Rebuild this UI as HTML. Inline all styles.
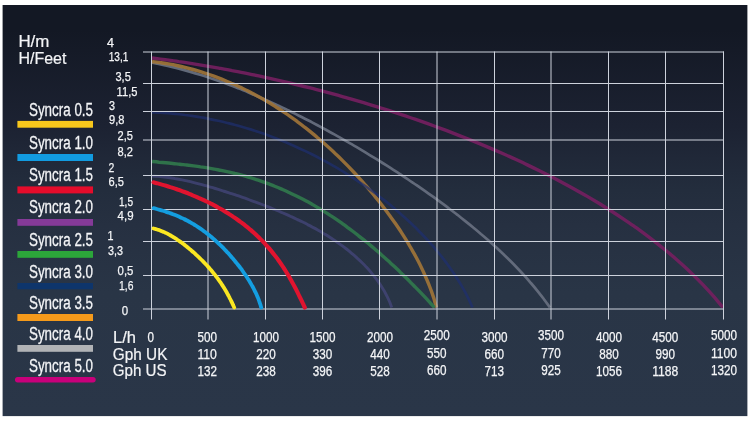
<!DOCTYPE html>
<html lang="en">
<head>
<meta charset="utf-8">
<title>Syncra pump performance curves</title>
<style>
html,body{margin:0;padding:0;background:#fff;}
body{width:750px;height:422px;overflow:hidden;}
svg{display:block;will-change:transform;}
text{font-family:"Liberation Sans",sans-serif;fill:#f4f5f7;}
.ax{font-size:13.8px;stroke:#f4f5f7;stroke-width:0.25px;}
.ay{font-size:13.2px;stroke:#f4f5f7;stroke-width:0.25px;}
.hd{font-size:16.2px;stroke:#f4f5f7;stroke-width:0.2px;}
.lg{font-size:18px;stroke:#f4f5f7;stroke-width:0.3px;}
.grid line{stroke:#cdd2dc;stroke-width:1;}
.curves path{fill:none;stroke-linecap:butt;stroke-linejoin:round;}
.curves.thick path{stroke-linecap:round;}
</style>
</head>
<body>
<svg width="750" height="422" viewBox="0 0 750 422">
<defs>
<linearGradient id="bg" x1="0" y1="0" x2="0" y2="1">
<stop offset="0" stop-color="#131824"/>
<stop offset="0.06" stop-color="#131824"/>
<stop offset="0.294" stop-color="#1c2232"/>
<stop offset="0.372" stop-color="#202838"/>
<stop offset="0.45" stop-color="#232d3d"/>
<stop offset="0.535" stop-color="#263041"/>
<stop offset="0.7" stop-color="#293546"/>
<stop offset="1" stop-color="#2a3648"/>
</linearGradient>
</defs>
<rect x="0" y="0" width="750" height="422" fill="#ffffff"/>
<rect x="2.6" y="5" width="744.8" height="411.1" fill="url(#bg)"/>

<g class="curves">
<path d="M152.0 58.0 C154.2 58.3 160.9 59.1 165.4 59.7 C169.8 60.3 174.3 60.9 178.7 61.6 C183.2 62.2 187.7 62.9 192.1 63.6 C196.6 64.3 201.0 65.0 205.5 65.8 C209.9 66.5 214.4 67.3 218.8 68.1 C223.2 68.9 227.7 69.7 232.1 70.6 C236.6 71.4 241.0 72.3 245.4 73.2 C249.8 74.1 254.3 75.0 258.7 75.9 C263.1 76.9 267.5 77.8 271.9 78.8 C276.3 79.8 280.7 80.8 285.1 81.8 C289.5 82.8 293.9 83.9 298.3 85.0 C302.7 86.0 307.1 87.1 311.4 88.2 C315.8 89.4 320.2 90.5 324.5 91.6 C328.9 92.8 333.2 94.0 337.6 95.2 C341.9 96.4 346.3 97.6 350.6 98.9 C354.9 100.1 359.3 101.4 363.6 102.7 C367.9 104.0 372.2 105.3 376.5 106.6 C380.8 107.9 385.1 109.3 389.4 110.7 C393.7 112.1 398.0 113.5 402.2 114.9 C406.5 116.3 410.8 117.8 415.0 119.2 C419.3 120.7 423.5 122.2 427.8 123.7 C432.0 125.2 436.3 126.8 440.5 128.3 C444.7 129.9 448.9 131.5 453.1 133.1 C457.3 134.7 461.5 136.4 465.7 138.0 C469.9 139.7 474.1 141.4 478.3 143.1 C482.4 144.8 486.6 146.6 490.7 148.4 C494.9 150.1 499.0 151.9 503.2 153.8 C507.3 155.6 511.4 157.4 515.5 159.3 C519.6 161.2 523.7 163.1 527.8 165.1 C531.8 167.0 535.9 169.0 539.9 171.0 C544.0 173.0 548.0 175.0 552.0 177.1 C556.0 179.2 560.0 181.3 564.0 183.4 C568.0 185.5 572.0 187.7 575.9 189.9 C579.8 192.1 583.8 194.3 587.7 196.6 C591.6 198.9 595.5 201.2 599.3 203.5 C603.2 205.9 607.0 208.3 610.8 210.7 C614.6 213.1 618.4 215.6 622.1 218.1 C625.9 220.6 629.6 223.2 633.3 225.7 C637.0 228.3 640.7 231.0 644.3 233.6 C647.9 236.3 651.5 239.0 655.1 241.8 C658.6 244.6 662.1 247.4 665.6 250.3 C669.1 253.1 672.5 256.0 675.9 259.0 C679.3 262.0 682.7 265.0 686.0 268.0 C689.3 271.1 692.5 274.2 695.7 277.4 C698.9 280.6 702.1 283.8 705.2 287.1 C708.3 290.4 711.3 293.7 714.3 297.1 C717.2 300.5 721.5 305.8 723.0 307.5" stroke="#74205f" stroke-width="3.4" opacity="0.92"/>
<path d="M152.0 62.7 C153.7 63.0 158.6 64.0 161.9 64.7 C165.2 65.4 168.5 66.1 171.8 66.9 C175.1 67.7 178.3 68.5 181.6 69.4 C184.9 70.3 188.1 71.2 191.3 72.1 C194.6 73.0 197.8 74.0 201.0 75.0 C204.3 76.0 207.5 77.1 210.7 78.2 C213.9 79.2 217.0 80.3 220.2 81.5 C223.4 82.6 226.6 83.8 229.7 85.0 C232.9 86.1 236.0 87.4 239.1 88.6 C242.3 89.9 245.4 91.1 248.5 92.4 C251.6 93.7 254.7 95.0 257.8 96.4 C260.9 97.7 264.0 99.1 267.1 100.5 C270.2 101.8 273.2 103.2 276.3 104.7 C279.3 106.1 282.4 107.5 285.4 109.0 C288.5 110.5 291.5 111.9 294.5 113.4 C297.5 114.9 300.5 116.5 303.5 118.0 C306.5 119.5 309.5 121.1 312.5 122.6 C315.5 124.2 318.5 125.8 321.5 127.4 C324.4 129.0 327.4 130.6 330.3 132.2 C333.3 133.8 336.2 135.5 339.2 137.1 C342.1 138.8 345.0 140.5 348.0 142.2 C350.9 143.8 353.8 145.5 356.7 147.2 C359.6 149.0 362.5 150.7 365.4 152.4 C368.3 154.2 371.1 155.9 374.0 157.7 C376.9 159.4 379.8 161.2 382.6 163.0 C385.5 164.8 388.3 166.6 391.2 168.4 C394.0 170.2 396.8 172.1 399.6 173.9 C402.5 175.8 405.3 177.6 408.1 179.5 C410.9 181.4 413.7 183.2 416.5 185.1 C419.2 187.0 422.0 189.0 424.8 190.9 C427.5 192.8 430.3 194.8 433.0 196.7 C435.8 198.7 438.5 200.7 441.2 202.7 C444.0 204.7 446.7 206.7 449.3 208.7 C452.0 210.7 454.7 212.8 457.4 214.8 C460.0 216.9 462.7 219.0 465.3 221.1 C468.0 223.2 470.6 225.3 473.2 227.5 C475.8 229.6 478.4 231.8 480.9 234.0 C483.5 236.1 486.0 238.3 488.6 240.6 C491.1 242.8 493.6 245.1 496.1 247.3 C498.6 249.6 501.0 251.9 503.5 254.2 C505.9 256.6 508.3 258.9 510.7 261.3 C513.1 263.7 515.4 266.1 517.7 268.5 C520.1 271.0 522.4 273.4 524.6 275.9 C526.9 278.4 529.1 281.0 531.3 283.5 C533.5 286.1 535.7 288.7 537.8 291.3 C539.9 293.9 542.0 296.6 544.0 299.3 C546.1 302.0 549.0 306.1 550.0 307.5" stroke="#687080" stroke-width="2.7" opacity="0.92"/>
<path d="M152.0 61.5 C153.4 61.7 157.5 62.2 160.3 62.6 C163.0 63.0 165.8 63.4 168.5 63.9 C171.3 64.4 174.0 64.9 176.7 65.5 C179.5 66.1 182.2 66.7 185.0 67.4 C187.7 68.1 190.4 68.8 193.1 69.5 C195.8 70.3 198.5 71.1 201.2 71.9 C203.9 72.8 206.6 73.6 209.2 74.5 C211.9 75.5 214.5 76.4 217.2 77.4 C219.8 78.4 222.4 79.4 225.0 80.5 C227.7 81.6 230.2 82.7 232.8 83.8 C235.4 84.9 237.9 86.1 240.5 87.3 C243.0 88.5 245.6 89.7 248.1 91.0 C250.6 92.3 253.0 93.6 255.5 94.9 C258.0 96.3 260.4 97.6 262.9 99.0 C265.3 100.4 267.7 101.8 270.1 103.3 C272.5 104.8 274.9 106.2 277.2 107.8 C279.6 109.3 281.9 110.8 284.2 112.4 C286.6 113.9 288.9 115.5 291.1 117.1 C293.4 118.8 295.7 120.4 297.9 122.1 C300.2 123.7 302.4 125.4 304.6 127.2 C306.8 128.9 309.0 130.6 311.2 132.4 C313.3 134.1 315.5 135.9 317.6 137.7 C319.8 139.5 321.9 141.4 324.0 143.2 C326.1 145.1 328.1 146.9 330.2 148.8 C332.3 150.7 334.3 152.6 336.3 154.6 C338.4 156.5 340.4 158.5 342.3 160.4 C344.3 162.4 346.3 164.4 348.3 166.4 C350.2 168.4 352.1 170.4 354.1 172.5 C356.0 174.5 357.9 176.6 359.7 178.7 C361.6 180.8 363.5 182.9 365.3 185.0 C367.2 187.1 369.0 189.2 370.8 191.4 C372.6 193.5 374.4 195.7 376.1 197.9 C377.9 200.0 379.7 202.2 381.4 204.5 C383.1 206.7 384.8 208.9 386.5 211.2 C388.2 213.4 389.8 215.7 391.4 217.9 C393.1 220.2 394.7 222.5 396.3 224.8 C397.9 227.1 399.4 229.5 401.0 231.8 C402.5 234.2 404.0 236.5 405.5 238.9 C407.0 241.3 408.4 243.7 409.8 246.1 C411.3 248.5 412.6 250.9 414.0 253.4 C415.4 255.8 416.7 258.3 418.0 260.8 C419.3 263.2 420.5 265.7 421.7 268.3 C422.9 270.8 424.1 273.3 425.2 275.9 C426.4 278.4 427.5 281.0 428.5 283.6 C429.5 286.2 430.5 288.8 431.5 291.4 C432.4 294.1 433.3 296.7 434.2 299.4 C435.0 302.1 436.1 306.2 436.5 307.5" stroke="#a07438" stroke-width="3.4" opacity="0.92"/>
<path d="M152.0 112.3 C153.4 112.4 157.5 112.5 160.3 112.7 C163.1 112.8 165.8 113.0 168.6 113.2 C171.4 113.5 174.1 113.7 176.9 114.0 C179.7 114.3 182.4 114.6 185.2 115.0 C188.0 115.3 190.7 115.7 193.5 116.2 C196.3 116.6 199.0 117.0 201.8 117.5 C204.5 118.0 207.3 118.5 210.0 119.1 C212.8 119.6 215.5 120.2 218.2 120.8 C221.0 121.4 223.7 122.0 226.4 122.7 C229.1 123.4 231.8 124.0 234.5 124.8 C237.2 125.5 239.9 126.2 242.6 127.0 C245.3 127.8 247.9 128.6 250.6 129.4 C253.3 130.3 255.9 131.1 258.6 132.0 C261.2 132.9 263.8 133.8 266.5 134.8 C269.1 135.7 271.7 136.7 274.3 137.7 C276.9 138.7 279.5 139.7 282.1 140.8 C284.6 141.8 287.2 142.9 289.7 144.0 C292.3 145.1 294.8 146.2 297.4 147.4 C299.9 148.5 302.4 149.7 304.9 150.9 C307.4 152.1 309.9 153.3 312.4 154.5 C314.9 155.8 317.4 157.1 319.8 158.4 C322.3 159.7 324.7 161.0 327.2 162.3 C329.6 163.7 332.0 165.0 334.4 166.4 C336.8 167.8 339.2 169.2 341.6 170.7 C344.0 172.1 346.3 173.6 348.7 175.1 C351.0 176.6 353.4 178.1 355.7 179.6 C358.0 181.1 360.3 182.7 362.6 184.3 C364.9 185.8 367.2 187.4 369.5 189.1 C371.7 190.7 374.0 192.3 376.2 194.0 C378.4 195.7 380.7 197.4 382.8 199.1 C385.0 200.8 387.2 202.5 389.4 204.3 C391.5 206.1 393.7 207.9 395.8 209.7 C397.9 211.5 400.0 213.3 402.1 215.2 C404.2 217.0 406.3 218.9 408.3 220.8 C410.4 222.7 412.4 224.6 414.4 226.6 C416.4 228.5 418.3 230.5 420.3 232.5 C422.2 234.5 424.2 236.5 426.1 238.5 C428.0 240.6 429.8 242.7 431.7 244.7 C433.5 246.8 435.3 249.0 437.1 251.1 C438.9 253.2 440.6 255.4 442.4 257.6 C444.1 259.8 445.8 262.0 447.4 264.2 C449.1 266.5 450.7 268.8 452.2 271.0 C453.8 273.3 455.4 275.7 456.8 278.0 C458.3 280.4 459.8 282.7 461.2 285.1 C462.6 287.5 464.0 290.0 465.3 292.4 C466.6 294.9 467.8 297.4 469.0 299.9 C470.2 302.4 471.9 306.2 472.5 307.5" stroke="#1e2f70" stroke-width="2.7" opacity="0.7"/>
<path d="M152.0 161.5 C153.1 161.6 156.6 161.9 158.9 162.2 C161.2 162.4 163.5 162.6 165.8 162.8 C168.1 163.1 170.4 163.3 172.8 163.5 C175.1 163.7 177.4 164.0 179.7 164.2 C182.0 164.5 184.3 164.7 186.7 165.0 C189.0 165.3 191.3 165.6 193.6 165.9 C195.9 166.2 198.2 166.5 200.5 166.9 C202.8 167.2 205.1 167.5 207.5 167.9 C209.8 168.3 212.1 168.7 214.3 169.1 C216.6 169.5 218.9 170.0 221.2 170.4 C223.5 170.9 225.8 171.4 228.1 171.9 C230.3 172.4 232.6 172.9 234.9 173.5 C237.1 174.0 239.4 174.6 241.6 175.2 C243.9 175.8 246.1 176.4 248.3 177.1 C250.6 177.7 252.8 178.4 255.0 179.1 C257.2 179.8 259.4 180.6 261.6 181.3 C263.8 182.1 266.0 182.9 268.2 183.7 C270.3 184.5 272.5 185.3 274.7 186.2 C276.8 187.1 279.0 188.0 281.1 188.9 C283.2 189.8 285.4 190.7 287.5 191.7 C289.6 192.7 291.7 193.6 293.8 194.7 C295.9 195.7 298.0 196.7 300.0 197.8 C302.1 198.8 304.2 199.9 306.2 201.0 C308.3 202.1 310.3 203.3 312.3 204.4 C314.3 205.6 316.4 206.8 318.4 207.9 C320.4 209.1 322.3 210.4 324.3 211.6 C326.3 212.8 328.3 214.1 330.2 215.4 C332.2 216.6 334.1 217.9 336.0 219.2 C338.0 220.6 339.9 221.9 341.8 223.2 C343.7 224.6 345.6 225.9 347.4 227.3 C349.3 228.7 351.2 230.1 353.1 231.5 C354.9 232.9 356.8 234.3 358.6 235.8 C360.4 237.2 362.2 238.6 364.1 240.1 C365.9 241.6 367.7 243.0 369.5 244.5 C371.2 246.0 373.0 247.5 374.8 249.0 C376.6 250.5 378.3 252.1 380.1 253.6 C381.8 255.1 383.5 256.7 385.3 258.2 C387.0 259.8 388.7 261.3 390.4 262.9 C392.1 264.5 393.8 266.0 395.5 267.6 C397.2 269.2 398.9 270.8 400.5 272.4 C402.2 274.0 403.9 275.6 405.5 277.3 C407.2 278.9 408.8 280.5 410.4 282.2 C412.1 283.8 413.7 285.5 415.3 287.1 C417.0 288.8 418.6 290.4 420.2 292.1 C421.8 293.8 423.4 295.5 425.0 297.2 C426.6 298.9 428.2 300.6 429.8 302.3 C431.3 304.0 433.7 306.6 434.5 307.5" stroke="#317a4c" stroke-width="3.4" opacity="0.9"/>
<path d="M152.0 176.1 C153.0 176.2 156.0 176.3 158.0 176.4 C160.0 176.6 162.0 176.8 164.0 177.0 C166.0 177.2 168.0 177.5 170.0 177.8 C172.0 178.1 174.0 178.4 176.0 178.8 C178.0 179.1 180.0 179.5 182.0 179.9 C184.0 180.3 186.0 180.8 187.9 181.2 C189.9 181.6 191.9 182.1 193.9 182.6 C195.9 183.1 197.8 183.6 199.8 184.1 C201.8 184.6 203.7 185.2 205.7 185.7 C207.7 186.3 209.6 186.8 211.6 187.4 C213.5 188.0 215.5 188.5 217.4 189.1 C219.4 189.7 221.3 190.3 223.2 191.0 C225.2 191.6 227.1 192.2 229.0 192.8 C231.0 193.4 232.9 194.1 234.8 194.7 C236.7 195.4 238.7 196.0 240.6 196.7 C242.5 197.4 244.4 198.0 246.3 198.7 C248.2 199.4 250.1 200.1 252.0 200.8 C253.9 201.5 255.8 202.2 257.7 202.9 C259.6 203.6 261.5 204.3 263.4 205.0 C265.2 205.7 267.1 206.5 269.0 207.2 C270.9 208.0 272.7 208.7 274.6 209.5 C276.5 210.2 278.3 211.0 280.2 211.8 C282.0 212.6 283.9 213.4 285.7 214.2 C287.6 215.0 289.4 215.8 291.3 216.7 C293.1 217.5 294.9 218.3 296.7 219.2 C298.6 220.1 300.4 220.9 302.2 221.8 C304.0 222.7 305.8 223.6 307.6 224.6 C309.4 225.5 311.2 226.4 312.9 227.4 C314.7 228.3 316.5 229.3 318.2 230.3 C320.0 231.3 321.8 232.3 323.5 233.4 C325.2 234.4 326.9 235.5 328.7 236.5 C330.4 237.6 332.1 238.7 333.8 239.9 C335.4 241.0 337.1 242.1 338.8 243.3 C340.4 244.5 342.1 245.7 343.7 246.9 C345.3 248.1 346.9 249.4 348.5 250.6 C350.1 251.9 351.6 253.2 353.2 254.5 C354.7 255.8 356.2 257.2 357.7 258.6 C359.2 259.9 360.7 261.3 362.1 262.8 C363.6 264.2 365.0 265.6 366.3 267.1 C367.7 268.6 369.1 270.1 370.4 271.6 C371.7 273.2 373.0 274.7 374.2 276.3 C375.5 277.9 376.7 279.5 377.9 281.2 C379.0 282.8 380.2 284.5 381.3 286.2 C382.3 287.8 383.4 289.6 384.4 291.3 C385.3 293.0 386.3 294.8 387.2 296.6 C388.1 298.4 388.9 300.2 389.7 302.0 C390.4 303.8 391.4 306.6 391.8 307.5" stroke="#45477c" stroke-width="2.9" opacity="0.75"/>
</g>
<g class="grid">
<line x1="143.0" y1="52.0" x2="724.0" y2="52.0" stroke-width="1.3"/>
<line x1="143.0" y1="83.5" x2="724.0" y2="83.5"/>
<line x1="143.0" y1="111.5" x2="724.0" y2="111.5"/>
<line x1="143.0" y1="140.0" x2="724.0" y2="140.0" stroke-width="1.3"/>
<line x1="143.0" y1="175.5" x2="724.0" y2="175.5"/>
<line x1="143.0" y1="209.5" x2="724.0" y2="209.5"/>
<line x1="143.0" y1="241.5" x2="724.0" y2="241.5"/>
<line x1="143.0" y1="275.5" x2="724.0" y2="275.5"/>
<line x1="143.0" y1="309.0" x2="724.0" y2="309.0" stroke-width="1.3"/>
<line x1="151.5" y1="51.5" x2="151.5" y2="319.5"/>
<line x1="208.0" y1="51.5" x2="208.0" y2="319.5" stroke-width="1.3"/>
<line x1="265.5" y1="51.5" x2="265.5" y2="319.5"/>
<line x1="322.5" y1="51.5" x2="322.5" y2="319.5"/>
<line x1="379.5" y1="51.5" x2="379.5" y2="319.5"/>
<line x1="437.0" y1="51.5" x2="437.0" y2="319.5" stroke-width="1.3"/>
<line x1="494.5" y1="51.5" x2="494.5" y2="319.5"/>
<line x1="551.0" y1="51.5" x2="551.0" y2="319.5" stroke-width="1.3"/>
<line x1="608.5" y1="51.5" x2="608.5" y2="319.5"/>
<line x1="665.5" y1="51.5" x2="665.5" y2="319.5"/>
<line x1="723.5" y1="51.5" x2="723.5" y2="319.5"/>
</g>
<g class="curves thick">
<path d="M153.5 182.3 C154.2 182.5 156.3 183.0 157.7 183.4 C159.1 183.8 160.5 184.2 161.9 184.6 C163.3 185.0 164.7 185.4 166.1 185.8 C167.5 186.2 168.8 186.6 170.2 187.1 C171.6 187.5 173.0 188.0 174.3 188.4 C175.7 188.9 177.1 189.3 178.4 189.8 C179.8 190.3 181.2 190.8 182.5 191.3 C183.9 191.8 185.2 192.3 186.6 192.8 C187.9 193.3 189.3 193.9 190.6 194.4 C192.0 195.0 193.3 195.5 194.6 196.1 C196.0 196.6 197.3 197.2 198.6 197.8 C200.0 198.4 201.3 199.0 202.6 199.6 C203.9 200.2 205.2 200.8 206.5 201.5 C207.8 202.1 209.1 202.7 210.4 203.4 C211.7 204.0 213.0 204.7 214.3 205.4 C215.6 206.1 216.9 206.8 218.1 207.5 C219.4 208.2 220.7 208.9 221.9 209.6 C223.2 210.4 224.4 211.1 225.7 211.9 C226.9 212.6 228.1 213.4 229.4 214.2 C230.6 214.9 231.8 215.7 233.0 216.6 C234.2 217.4 235.4 218.2 236.6 219.0 C237.8 219.9 239.0 220.7 240.1 221.6 C241.3 222.4 242.5 223.3 243.6 224.2 C244.7 225.1 245.9 226.0 247.0 226.9 C248.1 227.8 249.2 228.7 250.3 229.7 C251.4 230.6 252.5 231.6 253.6 232.5 C254.7 233.5 255.8 234.5 256.8 235.5 C257.9 236.5 258.9 237.5 259.9 238.5 C261.0 239.5 262.0 240.6 263.0 241.6 C264.0 242.7 265.0 243.7 265.9 244.8 C266.9 245.9 267.9 247.0 268.8 248.0 C269.8 249.1 270.7 250.3 271.6 251.4 C272.5 252.5 273.4 253.6 274.3 254.8 C275.2 255.9 276.1 257.1 277.0 258.2 C277.8 259.4 278.7 260.6 279.5 261.8 C280.4 263.0 281.2 264.2 282.0 265.4 C282.8 266.6 283.6 267.8 284.4 269.0 C285.2 270.3 286.0 271.5 286.7 272.7 C287.5 274.0 288.2 275.2 289.0 276.5 C289.7 277.8 290.4 279.0 291.1 280.3 C291.8 281.6 292.5 282.8 293.2 284.1 C293.9 285.4 294.6 286.7 295.3 288.0 C296.0 289.3 296.6 290.6 297.3 291.9 C297.9 293.2 298.6 294.5 299.2 295.8 C299.8 297.1 300.5 298.4 301.1 299.7 C301.7 301.0 302.3 302.3 303.0 303.6 C303.6 304.9 304.5 306.9 304.8 307.5" stroke="#e1142f" stroke-width="4.1" opacity="1"/>
<path d="M153.5 208.2 C154.0 208.3 155.6 208.7 156.7 209.0 C157.7 209.3 158.8 209.6 159.8 209.9 C160.8 210.2 161.9 210.5 162.9 210.8 C164.0 211.1 165.0 211.4 166.0 211.8 C167.1 212.1 168.1 212.5 169.1 212.8 C170.1 213.2 171.2 213.5 172.2 213.9 C173.2 214.3 174.2 214.7 175.2 215.1 C176.2 215.5 177.2 215.9 178.2 216.3 C179.2 216.8 180.2 217.2 181.2 217.7 C182.1 218.1 183.1 218.6 184.1 219.0 C185.0 219.5 186.0 220.0 187.0 220.5 C187.9 221.0 188.9 221.5 189.8 222.0 C190.7 222.6 191.7 223.1 192.6 223.7 C193.5 224.2 194.5 224.8 195.4 225.3 C196.3 225.9 197.2 226.5 198.1 227.1 C199.0 227.7 199.9 228.3 200.8 228.9 C201.7 229.5 202.5 230.1 203.4 230.8 C204.3 231.4 205.2 232.1 206.0 232.7 C206.9 233.4 207.7 234.0 208.6 234.7 C209.4 235.4 210.3 236.1 211.1 236.8 C211.9 237.5 212.7 238.2 213.6 238.9 C214.4 239.6 215.2 240.3 216.0 241.1 C216.8 241.8 217.6 242.5 218.4 243.3 C219.2 244.0 220.0 244.8 220.8 245.5 C221.5 246.3 222.3 247.1 223.1 247.8 C223.8 248.6 224.6 249.4 225.3 250.2 C226.1 251.0 226.8 251.8 227.6 252.6 C228.3 253.4 229.0 254.2 229.8 255.0 C230.5 255.8 231.2 256.6 231.9 257.5 C232.6 258.3 233.3 259.1 234.0 259.9 C234.7 260.8 235.4 261.6 236.1 262.5 C236.8 263.3 237.5 264.2 238.1 265.0 C238.8 265.9 239.5 266.7 240.1 267.6 C240.8 268.4 241.4 269.3 242.1 270.2 C242.7 271.1 243.3 271.9 243.9 272.8 C244.6 273.7 245.2 274.6 245.8 275.5 C246.4 276.4 247.0 277.3 247.5 278.2 C248.1 279.1 248.7 280.0 249.3 280.9 C249.8 281.8 250.4 282.7 250.9 283.7 C251.5 284.6 252.0 285.5 252.5 286.5 C253.0 287.4 253.5 288.4 254.0 289.3 C254.5 290.3 255.0 291.2 255.4 292.2 C255.9 293.2 256.4 294.1 256.8 295.1 C257.2 296.1 257.7 297.1 258.1 298.1 C258.5 299.1 258.8 300.1 259.2 301.2 C259.6 302.2 259.9 303.2 260.3 304.3 C260.6 305.3 261.0 307.0 261.2 307.5" stroke="#149ee0" stroke-width="3.8" opacity="1"/>
<path d="M153.5 228.5 C153.9 228.6 155.1 228.9 155.9 229.1 C156.7 229.3 157.5 229.6 158.3 229.8 C159.1 230.1 159.9 230.4 160.7 230.7 C161.4 231.0 162.2 231.3 162.9 231.6 C163.7 231.9 164.4 232.3 165.2 232.6 C165.9 233.0 166.7 233.3 167.4 233.7 C168.1 234.1 168.8 234.5 169.6 234.9 C170.3 235.3 171.0 235.7 171.7 236.1 C172.4 236.5 173.1 236.9 173.8 237.4 C174.5 237.8 175.2 238.2 175.9 238.7 C176.6 239.1 177.2 239.6 177.9 240.1 C178.6 240.5 179.3 241.0 179.9 241.5 C180.6 241.9 181.3 242.4 181.9 242.9 C182.6 243.4 183.3 243.9 183.9 244.4 C184.6 244.9 185.2 245.4 185.9 245.9 C186.5 246.4 187.2 247.0 187.8 247.5 C188.4 248.0 189.1 248.5 189.7 249.1 C190.3 249.6 191.0 250.1 191.6 250.7 C192.2 251.2 192.8 251.8 193.5 252.3 C194.1 252.8 194.7 253.4 195.3 254.0 C195.9 254.5 196.5 255.1 197.1 255.6 C197.7 256.2 198.3 256.8 198.9 257.3 C199.5 257.9 200.1 258.5 200.7 259.1 C201.3 259.6 201.9 260.2 202.5 260.8 C203.0 261.4 203.6 262.0 204.2 262.6 C204.8 263.2 205.3 263.8 205.9 264.4 C206.4 265.0 207.0 265.6 207.6 266.2 C208.1 266.8 208.7 267.4 209.2 268.0 C209.7 268.6 210.3 269.3 210.8 269.9 C211.4 270.5 211.9 271.1 212.4 271.8 C212.9 272.4 213.5 273.0 214.0 273.7 C214.5 274.3 215.0 275.0 215.5 275.6 C216.0 276.3 216.5 276.9 217.0 277.6 C217.5 278.2 218.0 278.9 218.5 279.6 C218.9 280.2 219.4 280.9 219.9 281.6 C220.4 282.2 220.8 282.9 221.3 283.6 C221.7 284.3 222.2 285.0 222.6 285.7 C223.1 286.4 223.5 287.1 224.0 287.8 C224.4 288.5 224.8 289.2 225.2 289.9 C225.7 290.6 226.1 291.3 226.5 292.0 C226.9 292.7 227.3 293.5 227.7 294.2 C228.1 294.9 228.5 295.6 228.9 296.4 C229.3 297.1 229.6 297.8 230.0 298.6 C230.4 299.3 230.8 300.0 231.1 300.8 C231.5 301.5 231.8 302.3 232.2 303.0 C232.5 303.8 232.9 304.5 233.2 305.3 C233.5 306.0 234.0 307.1 234.2 307.5" stroke="#fbe722" stroke-width="3.8" opacity="1"/>
</g>
<g class="headers">
<text class="hd" x="18.4" y="47.4" textLength="31.0" lengthAdjust="spacingAndGlyphs">H/m</text>
<text class="hd" x="18.4" y="64.0" textLength="48.0" lengthAdjust="spacingAndGlyphs">H/Feet</text>
<text class="hd" x="113.0" y="343.0" textLength="23.0" lengthAdjust="spacingAndGlyphs">L/h</text>
<text class="hd" x="112.8" y="359.6" textLength="54.6" lengthAdjust="spacingAndGlyphs">Gph UK</text>
<text class="hd" x="112.8" y="376.0" textLength="53.8" lengthAdjust="spacingAndGlyphs">Gph US</text>
</g>
<g class="legend">
<text class="lg" x="29.0" y="116.2" textLength="64.0" lengthAdjust="spacingAndGlyphs">Syncra 0.5</text>
<rect x="17.4" y="120.9" width="75.6" height="6.8" fill="#f7c71c"/>
<text class="lg" x="29.0" y="149.0" textLength="64.0" lengthAdjust="spacingAndGlyphs">Syncra 1.0</text>
<rect x="17.4" y="154.0" width="75.6" height="7.0" fill="#129be0"/>
<text class="lg" x="29.0" y="181.0" textLength="64.0" lengthAdjust="spacingAndGlyphs">Syncra 1.5</text>
<rect x="17.4" y="186.4" width="75.6" height="7.0" fill="#e50c2b"/>
<text class="lg" x="29.0" y="213.0" textLength="64.0" lengthAdjust="spacingAndGlyphs">Syncra 2.0</text>
<rect x="17.4" y="219.0" width="75.6" height="6.8" fill="#853a98"/>
<text class="lg" x="29.0" y="245.8" textLength="64.0" lengthAdjust="spacingAndGlyphs">Syncra 2.5</text>
<rect x="17.4" y="251.0" width="75.6" height="6.8" fill="#2ca63a"/>
<text class="lg" x="29.0" y="278.0" textLength="64.0" lengthAdjust="spacingAndGlyphs">Syncra 3.0</text>
<rect x="17.4" y="283.0" width="75.6" height="6.3" fill="#0e356b"/>
<text class="lg" x="29.0" y="308.9" textLength="64.0" lengthAdjust="spacingAndGlyphs">Syncra 3.5</text>
<rect x="17.4" y="314.0" width="75.6" height="7.0" fill="#f59a1b"/>
<text class="lg" x="29.0" y="340.4" textLength="64.0" lengthAdjust="spacingAndGlyphs">Syncra 4.0</text>
<rect x="17.4" y="345.0" width="75.6" height="6.8" fill="#b1b3b6"/>
<text class="lg" x="29.0" y="371.8" textLength="64.0" lengthAdjust="spacingAndGlyphs">Syncra 5.0</text>
<rect x="15" y="376.9" width="80.7" height="5.5" rx="2.7" fill="#c8007b"/>
</g>
<g class="ylabels">
<text class="ay" x="107.0" y="46.6" textLength="7.0" lengthAdjust="spacingAndGlyphs">4</text>
<text class="ay" x="108.7" y="61.4" textLength="19.7" lengthAdjust="spacingAndGlyphs">13,1</text>
<text class="ay" x="115.4" y="81.4" textLength="15.4" lengthAdjust="spacingAndGlyphs">3,5</text>
<text class="ay" x="116.6" y="96.0" textLength="20.8" lengthAdjust="spacingAndGlyphs">11,5</text>
<text class="ay" x="109.0" y="110.0" textLength="6.0" lengthAdjust="spacingAndGlyphs">3</text>
<text class="ay" x="109.0" y="124.4" textLength="15.4" lengthAdjust="spacingAndGlyphs">9,8</text>
<text class="ay" x="117.6" y="140.4" textLength="15.4" lengthAdjust="spacingAndGlyphs">2,5</text>
<text class="ay" x="117.6" y="155.6" textLength="15.4" lengthAdjust="spacingAndGlyphs">8,2</text>
<text class="ay" x="108.6" y="172.4" textLength="5.8" lengthAdjust="spacingAndGlyphs">2</text>
<text class="ay" x="108.6" y="186.4" textLength="15.4" lengthAdjust="spacingAndGlyphs">6,5</text>
<text class="ay" x="119.0" y="206.0" textLength="14.0" lengthAdjust="spacingAndGlyphs">1,5</text>
<text class="ay" x="117.6" y="220.4" textLength="16.0" lengthAdjust="spacingAndGlyphs">4,9</text>
<text class="ay" x="107.4" y="240.0" textLength="6.0" lengthAdjust="spacingAndGlyphs">1</text>
<text class="ay" x="108.0" y="255.0" textLength="15.0" lengthAdjust="spacingAndGlyphs">3,3</text>
<text class="ay" x="117.6" y="275.0" textLength="15.8" lengthAdjust="spacingAndGlyphs">0,5</text>
<text class="ay" x="119.0" y="289.6" textLength="14.4" lengthAdjust="spacingAndGlyphs">1,6</text>
<text class="ay" x="121.8" y="314.5" textLength="6.4" lengthAdjust="spacingAndGlyphs">0</text>
</g>
<g class="xlabels">
<text class="ax" x="147.6" y="341.6" textLength="6.5" lengthAdjust="spacingAndGlyphs">0</text>
<text class="ax" x="197.4" y="341.6" textLength="19.5" lengthAdjust="spacingAndGlyphs">500</text>
<text class="ax" x="197.4" y="359.4" textLength="19.5" lengthAdjust="spacingAndGlyphs">110</text>
<text class="ax" x="197.4" y="376.2" textLength="19.5" lengthAdjust="spacingAndGlyphs">132</text>
<text class="ax" x="253.0" y="341.6" textLength="26.0" lengthAdjust="spacingAndGlyphs">1000</text>
<text class="ax" x="256.2" y="359.4" textLength="19.5" lengthAdjust="spacingAndGlyphs">220</text>
<text class="ax" x="256.2" y="376.2" textLength="19.5" lengthAdjust="spacingAndGlyphs">238</text>
<text class="ax" x="309.5" y="341.6" textLength="26.0" lengthAdjust="spacingAndGlyphs">1500</text>
<text class="ax" x="312.8" y="359.4" textLength="19.5" lengthAdjust="spacingAndGlyphs">330</text>
<text class="ax" x="312.8" y="376.2" textLength="19.5" lengthAdjust="spacingAndGlyphs">396</text>
<text class="ax" x="367.0" y="341.6" textLength="26.0" lengthAdjust="spacingAndGlyphs">2000</text>
<text class="ax" x="370.2" y="359.4" textLength="19.5" lengthAdjust="spacingAndGlyphs">440</text>
<text class="ax" x="370.2" y="376.2" textLength="19.5" lengthAdjust="spacingAndGlyphs">528</text>
<text class="ax" x="423.7" y="340.3" textLength="26.0" lengthAdjust="spacingAndGlyphs">2500</text>
<text class="ax" x="426.9" y="358.1" textLength="19.5" lengthAdjust="spacingAndGlyphs">550</text>
<text class="ax" x="426.9" y="374.9" textLength="19.5" lengthAdjust="spacingAndGlyphs">660</text>
<text class="ax" x="481.4" y="341.6" textLength="26.0" lengthAdjust="spacingAndGlyphs">3000</text>
<text class="ax" x="484.6" y="359.4" textLength="19.5" lengthAdjust="spacingAndGlyphs">660</text>
<text class="ax" x="484.6" y="376.2" textLength="19.5" lengthAdjust="spacingAndGlyphs">713</text>
<text class="ax" x="538.0" y="340.3" textLength="26.0" lengthAdjust="spacingAndGlyphs">3500</text>
<text class="ax" x="541.2" y="358.1" textLength="19.5" lengthAdjust="spacingAndGlyphs">770</text>
<text class="ax" x="541.2" y="374.9" textLength="19.5" lengthAdjust="spacingAndGlyphs">925</text>
<text class="ax" x="596.0" y="341.6" textLength="26.0" lengthAdjust="spacingAndGlyphs">4000</text>
<text class="ax" x="599.2" y="359.4" textLength="19.5" lengthAdjust="spacingAndGlyphs">880</text>
<text class="ax" x="596.0" y="376.2" textLength="26.0" lengthAdjust="spacingAndGlyphs">1056</text>
<text class="ax" x="652.2" y="341.6" textLength="26.0" lengthAdjust="spacingAndGlyphs">4500</text>
<text class="ax" x="655.5" y="359.4" textLength="19.5" lengthAdjust="spacingAndGlyphs">990</text>
<text class="ax" x="652.2" y="376.2" textLength="26.0" lengthAdjust="spacingAndGlyphs">1188</text>
<text class="ax" x="711.0" y="340.3" textLength="26.0" lengthAdjust="spacingAndGlyphs">5000</text>
<text class="ax" x="711.0" y="358.1" textLength="26.0" lengthAdjust="spacingAndGlyphs">1100</text>
<text class="ax" x="711.0" y="374.9" textLength="26.0" lengthAdjust="spacingAndGlyphs">1320</text>
</g>
</svg>
</body>
</html>
